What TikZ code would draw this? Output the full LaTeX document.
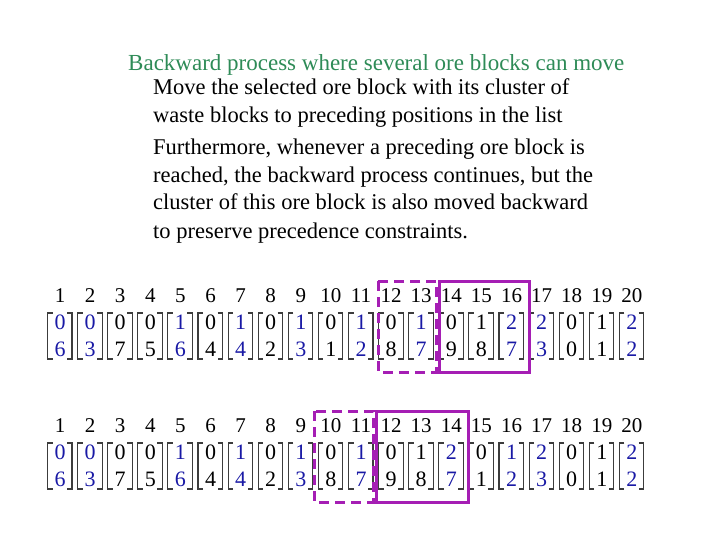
\documentclass[tikz,border=0pt]{standalone}
\usepackage{fontspec}
\setmainfont{Liberation Serif}
\definecolor{ttl}{RGB}{46,139,87}
\definecolor{mag}{RGB}{165,30,180}
\definecolor{vb}{RGB}{25,25,165}
\definecolor{brk}{RGB}{60,60,60}
\tikzset{
  ttltxt/.style={anchor=base west, inner sep=0pt, font=\fontsize{23}{27}\selectfont},
  txt/.style={anchor=base west, inner sep=0pt, font=\fontsize{22.5}{27}\selectfont},
  hnum/.style={anchor=base, inner sep=0pt, font=\fontsize{21}{24}\selectfont},
  num/.style={anchor=base, inner sep=0pt, font=\fontsize{22}{24}\selectfont},
  brkline/.style={draw=brk, line width=1.1pt},
  solidbox/.style={draw=mag, line width=3pt},
  dashbox/.style={draw=mag, line width=3pt, dash pattern=on 10pt off 6pt},
}
\begin{document}
\begin{tikzpicture}[x=1pt,y=-1pt]
\useasboundingbox (0,0) rectangle (720,540);
\node[ttltxt, text=ttl] (title) at (128,71) {Backward process where several ore blocks can move};
\node[txt] (l1) at (153,95) {Move the selected ore block with its cluster of};
\node[txt] (l2) at (153,123) {waste blocks to preceding positions in the list};
\node[txt] (l3) at (153,155) {Furthermore, whenever a preceding ore block is};
\node[txt] (l4) at (153,183) {reached, the backward process continues, but the};
\node[txt] (l5) at (153,210) {cluster of this ore block is also moved backward};
\node[txt] (l6) at (153,238) {to preserve precedence constraints.};
% row 1
\foreach \i/\t/\b/\c in {1/0/6/vb, 2/0/3/vb, 3/0/7/black, 4/0/5/black, 5/1/6/vb, 6/0/4/black, 7/1/4/vb, 8/0/2/black, 9/1/3/vb, 10/0/1/black, 11/1/2/vb, 12/0/8/black, 13/1/7/vb, 14/0/9/black, 15/1/8/black, 16/2/7/vb, 17/2/3/vb, 18/0/0/black, 19/1/1/black, 20/2/2/vb}{
  \pgfmathsetmacro{\xx}{60+(\i-1)*30.1}
  \node[hnum] (ha\i) at (\xx,302) {\i};
  \node[num, text=\c] (ta\i) at (\xx,329) {\t};
  \node[num, text=\c] (ba\i) at (\xx,356) {\b};
  \draw[brkline] (\xx-7.5,313) -- (\xx-12.5,313) -- (\xx-12.5,359) -- (\xx-7.5,359);
  \draw[brkline] (\xx+7,313) -- (\xx+12,313) -- (\xx+12,359) -- (\xx+7,359);
}
% row 2
\foreach \i/\t/\b/\c in {1/0/6/vb, 2/0/3/vb, 3/0/7/black, 4/0/5/black, 5/1/6/vb, 6/0/4/black, 7/1/4/vb, 8/0/2/black, 9/1/3/vb, 10/0/8/black, 11/1/7/vb, 12/0/9/black, 13/1/8/black, 14/2/7/vb, 15/0/1/black, 16/1/2/vb, 17/2/3/vb, 18/0/0/black, 19/1/1/black, 20/2/2/vb}{
  \pgfmathsetmacro{\xx}{60+(\i-1)*30.1}
  \node[hnum] (hb\i) at (\xx,432) {\i};
  \node[num, text=\c] (tb\i) at (\xx,459) {\t};
  \node[num, text=\c] (bb\i) at (\xx,486) {\b};
  \draw[brkline] (\xx-7.5,443) -- (\xx-12.5,443) -- (\xx-12.5,489) -- (\xx-7.5,489);
  \draw[brkline] (\xx+7,443) -- (\xx+12,443) -- (\xx+12,489) -- (\xx+7,489);
}
\draw[dashbox] (378,281) rectangle (436,372);
\draw[solidbox] (439,281) rectangle (529,372);
\draw[dashbox] (314,411) rectangle (373,502);
\draw[solidbox] (376,411) rectangle (468,502);
\end{tikzpicture}
\end{document}
